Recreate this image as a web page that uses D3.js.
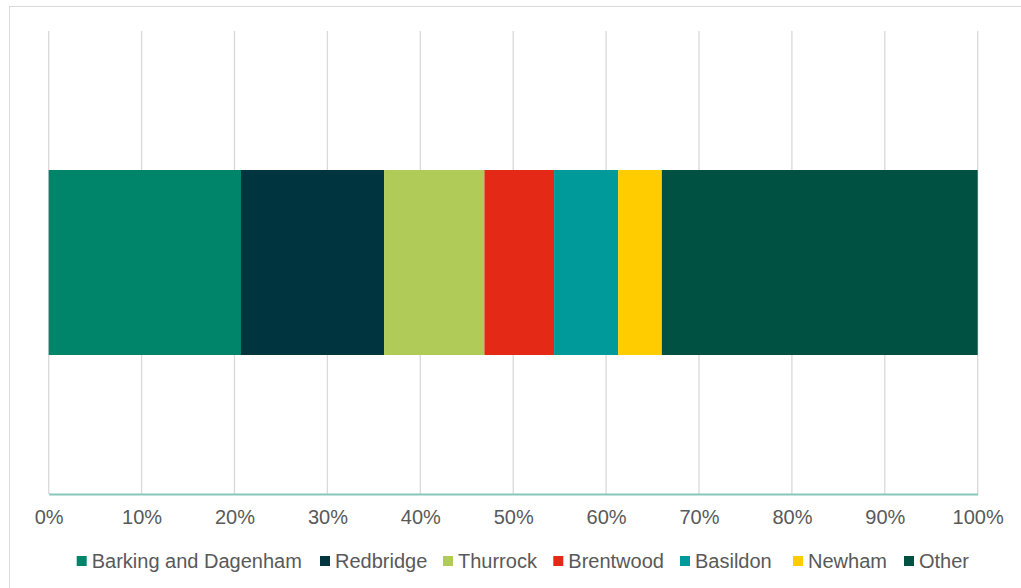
<!DOCTYPE html>
<html>
<head>
<meta charset="utf-8">
<script src="https://cdn.jsdelivr.net/npm/d3@7/dist/d3.min.js"></script>
<style>
  html, body { margin: 0; padding: 0; background: #ffffff; }
  svg { display: block; }
  text { font-family: "Liberation Sans", Arial, sans-serif; }
</style>
</head>
<body>
<svg id="chart" width="1021" height="588"></svg>
<script>
// Share of total by area (percent)
const categories = ["Barking and Dagenham", "Redbridge", "Thurrock", "Brentwood", "Basildon", "Newham", "Other"];
const shares = [20.7, 15.4, 10.8, 7.5, 6.9, 4.7, 34.0];
const colors = ["#00856a", "#00343f", "#b0cb58", "#e42a17", "#009a9a", "#ffcc00", "#005142"];
const tickValues = [0, 10, 20, 30, 40, 50, 60, 70, 80, 90, 100];

const svg = d3.select("#chart");

// Outer frame
svg.append("rect")
  .attr("x", 9.5).attr("y", 6.5)
  .attr("width", 1030).attr("height", 600)
  .attr("fill", "none").attr("stroke", "#d9d9d9").attr("stroke-width", 1);

const plot = { left: 48.7, right: 977.7, top: 31, bottom: 494 };

const x = d3.scaleLinear().domain([0, 100]).range([plot.left, plot.right]);

// Vertical gridlines
svg.append("g")
  .selectAll("line")
  .data(tickValues)
  .join("line")
  .attr("x1", d => x(d)).attr("x2", d => x(d))
  .attr("y1", plot.top).attr("y2", plot.bottom)
  .attr("stroke", "#d9d9d9").attr("stroke-width", 1.3);

// Stacked segments
const stacked = [];
let acc = 0;
shares.forEach((v, i) => { stacked.push({ name: categories[i], x0: acc, x1: acc + v, color: colors[i] }); acc += v; });

const barTop = 170, barBottom = 355;
svg.append("g")
  .selectAll("rect")
  .data(stacked)
  .join("rect")
  .attr("x", d => x(d.x0))
  .attr("width", d => x(d.x1) - x(d.x0))
  .attr("y", barTop)
  .attr("height", barBottom - barTop)
  .attr("fill", d => d.color);

// Horizontal axis
const axis = d3.axisBottom(x)
  .tickValues(tickValues)
  .tickFormat(d => d + "%")
  .tickSize(0)
  .tickPadding(16);

const gAxis = svg.append("g")
  .attr("transform", `translate(0,${plot.bottom})`)
  .call(axis);
gAxis.select(".domain").attr("stroke", "#86c8ba").attr("stroke-width", 2);
gAxis.selectAll("text")
  .attr("fill", "#595959")
  .style("font-size", "20px")
  .style("font-family", "'Liberation Sans', Arial, sans-serif");

// Legend
const legendX = [76.7, 320, 443, 553.3, 680, 793, 904];
const legend = svg.append("g")
  .selectAll("g")
  .data(categories)
  .join("g")
  .attr("transform", (d, i) => `translate(${legendX[i]},561)`);
legend.append("rect")
  .attr("x", 0).attr("y", -5)
  .attr("width", 10).attr("height", 10)
  .attr("fill", (d, i) => colors[i]);
legend.append("text")
  .attr("x", 15).attr("y", 7)
  .attr("fill", "#595959")
  .style("font-size", "20px")
  .text(d => d);
</script>
</body>
</html>
